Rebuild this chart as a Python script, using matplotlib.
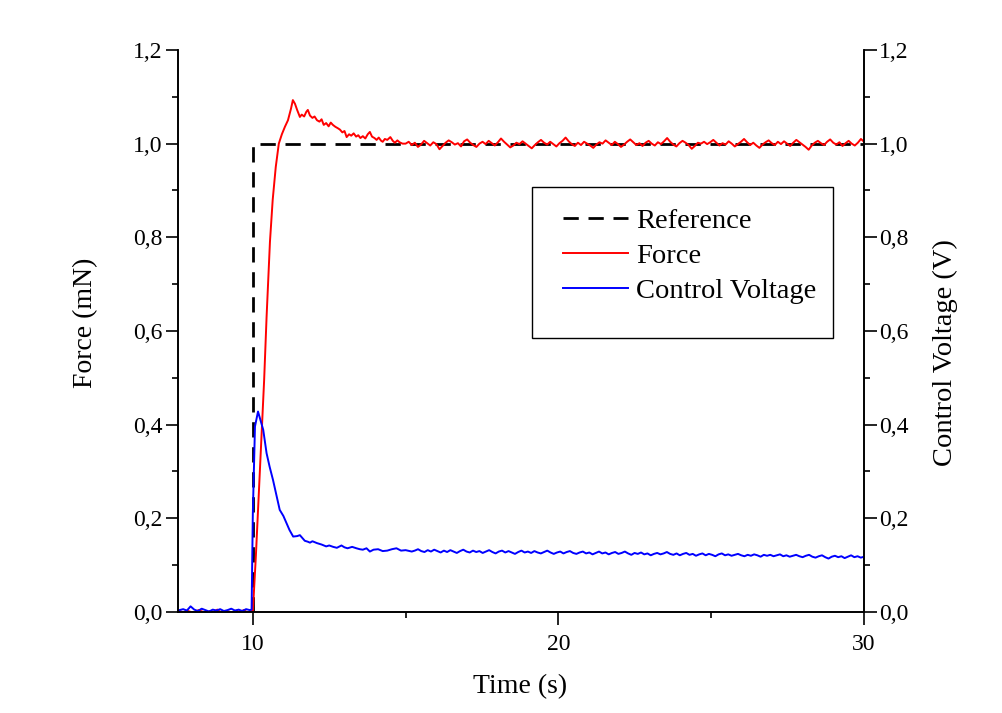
import numpy as np
import matplotlib
matplotlib.use("Agg")
import matplotlib.pyplot as plt
from matplotlib.patches import Rectangle
from matplotlib.ticker import MultipleLocator, FuncFormatter

plt.rcParams['font.family'] = ['Liberation Serif', 'DejaVu Serif']

# reference step
ref_t = [7.55, 10.0, 10.0, 30.0]
ref_v = [0.0, 0.0, 1.0, 1.0]

# values before the step (both traces)
pre_force = [0.002, -0.001, 0.003, 0.0, -0.002, 0.004, 0.001, -0.003, 0.002, 0.0,
             0.005, -0.001, 0.002, 0.001, -0.002, 0.003, 0.0, 0.004, -0.001, 0.002]
pre_volt = [0.004, 0.006, 0.003, 0.012, 0.005, 0.002, 0.007, 0.004, 0.001, 0.005,
            0.003, 0.006, 0.002, 0.004, 0.007, 0.003, 0.005, 0.002, 0.006, 0.004]

# force rise and overshoot
rise_t = [10.0, 10.1, 10.2, 10.3, 10.37, 10.45, 10.56, 10.65, 10.75, 10.85, 10.95,
          11.05, 11.15, 11.25, 11.31, 11.38, 11.45, 11.54, 11.6, 11.68, 11.75, 11.8,
          11.87, 11.95, 12.02, 12.1, 12.18, 12.25, 12.32, 12.4, 12.48, 12.55, 12.62,
          12.7, 12.78, 12.85, 12.93, 13.0, 13.07, 13.15, 13.22, 13.3, 13.38, 13.45,
          13.52, 13.6, 13.68, 13.76, 13.83, 13.9, 13.98, 14.05, 14.12, 14.2, 14.25,
          14.32, 14.4, 14.5, 14.58, 14.65, 14.73, 14.8, 14.9]
rise_force = [0.0, 0.12, 0.26, 0.40, 0.495, 0.63, 0.79, 0.88, 0.95, 1.0, 1.02,
              1.036, 1.05, 1.075, 1.093, 1.085, 1.072, 1.057, 1.062, 1.058, 1.068, 1.072,
              1.06, 1.055, 1.058, 1.05, 1.047, 1.052, 1.04, 1.044, 1.037, 1.045, 1.040,
              1.036, 1.033, 1.03, 1.024, 1.027, 1.014, 1.02, 1.017, 1.022, 1.015, 1.018,
              1.012, 1.016, 1.011, 1.02, 1.025, 1.015, 1.012, 1.008, 1.013, 1.006, 1.004,
              1.01, 1.008, 1.014, 1.006, 1.002, 1.007, 1.003, 1.0]

# force steady state, 15 s .. 30 s
tail_force = [1.000, 1.004, 0.997, 1.002, 0.993, 0.998, 1.006, 1.001, 0.996, 1.003,
              0.999, 0.988, 0.995, 1.002, 1.007, 1.003, 0.998, 1.001, 0.994, 1.005,
              1.009, 1.002, 0.997, 0.993, 1.000, 1.004, 0.999, 1.006, 1.001, 0.996,
              1.003, 1.011, 1.004, 0.998, 0.992, 0.996, 1.002, 0.999, 1.005, 1.000,
              0.995, 0.990, 0.997, 1.003, 1.008, 1.002, 0.998, 1.004, 0.999, 0.994,
              1.001, 1.006, 1.013, 1.005, 0.999, 0.995, 1.002, 0.997, 1.004, 1.000,
              0.996, 0.991, 0.998, 1.003, 1.000, 1.007, 1.002, 0.997, 1.004, 0.999,
              0.993, 0.998, 1.004, 1.009, 1.003, 0.997, 1.001, 0.995, 1.002, 1.006,
              1.000, 0.996, 1.003, 0.999, 1.005, 1.012, 1.004, 0.998, 0.994, 1.001,
              1.006, 1.002, 0.997, 0.989, 0.995, 1.002, 1.000, 1.004, 0.999, 1.003,
              1.008, 1.002, 0.996, 1.001, 0.998, 1.005, 1.000, 0.994, 0.999, 1.004,
              1.010, 1.003, 0.997, 1.002, 0.996, 0.991, 0.998, 1.003, 1.007, 1.001,
              0.997, 1.004, 0.999, 1.005, 1.000, 0.995, 1.002, 1.008, 1.003, 0.998,
              0.993, 0.987, 0.996, 1.002, 1.006, 1.001, 0.997, 1.004, 1.009, 1.002,
              0.998, 1.003, 0.995, 1.001, 1.006, 1.000, 0.996, 1.002, 1.010, 1.004]

# control voltage peak and decay
peak_t = [9.96, 10.0, 10.07, 10.17, 10.25, 10.34, 10.45, 10.55, 10.66, 10.77, 10.88,
          11.0, 11.1, 11.2, 11.32, 11.45, 11.54, 11.62, 11.7, 11.8, 11.87, 11.95,
          12.1, 12.25, 12.4, 12.5, 12.63, 12.75, 12.9, 13.0, 13.1, 13.25, 13.39,
          13.5, 13.6, 13.72, 13.83, 13.95, 14.1, 14.25, 14.4, 14.55, 14.7, 14.85, 15.0,
          15.2]
peak_volt = [0.005, 0.21, 0.396, 0.428, 0.41, 0.389, 0.339, 0.31, 0.282, 0.25, 0.218,
             0.205, 0.19, 0.175, 0.161, 0.162, 0.164, 0.158, 0.152, 0.150, 0.148, 0.151,
             0.147, 0.144, 0.140, 0.142, 0.139, 0.137, 0.142, 0.138, 0.136, 0.139, 0.136,
             0.134, 0.133, 0.136, 0.129, 0.133, 0.134, 0.130, 0.131, 0.134, 0.136, 0.131,
             0.132, 0.129]

# control voltage steady state, 15.3 s .. 30 s
tail_volt = [0.131, 0.134, 0.130, 0.128, 0.132, 0.129, 0.133, 0.130, 0.127, 0.131,
             0.128, 0.132, 0.129, 0.126, 0.130, 0.133, 0.129, 0.127, 0.131, 0.128,
             0.130, 0.126, 0.129, 0.132, 0.128, 0.125, 0.129, 0.131, 0.127, 0.130,
             0.127, 0.124, 0.128, 0.131, 0.127, 0.129, 0.126, 0.130, 0.127, 0.125,
             0.128, 0.131, 0.127, 0.124, 0.127, 0.129, 0.125, 0.128, 0.130, 0.126,
             0.124, 0.127, 0.129, 0.125, 0.127, 0.123, 0.126, 0.129, 0.125, 0.127,
             0.123, 0.126, 0.128, 0.124, 0.126, 0.129, 0.125, 0.122, 0.126, 0.124,
             0.127, 0.123, 0.125, 0.121, 0.124, 0.126, 0.123, 0.125, 0.128, 0.124,
             0.122, 0.125, 0.121, 0.124, 0.126, 0.122, 0.124, 0.120, 0.123, 0.125,
             0.121, 0.124, 0.122, 0.119, 0.123, 0.125, 0.121, 0.123, 0.120, 0.122,
             0.124, 0.121, 0.119, 0.122, 0.120, 0.123, 0.121, 0.118, 0.122, 0.120,
             0.122, 0.119, 0.121, 0.123, 0.119, 0.121, 0.118, 0.120, 0.122, 0.119,
             0.117, 0.120, 0.122, 0.118, 0.116, 0.119, 0.121, 0.117, 0.114, 0.118,
             0.120, 0.117, 0.119, 0.115, 0.118, 0.121, 0.117, 0.119, 0.116, 0.118]

pre_t = np.linspace(7.6, 9.95, len(pre_force))
force_t = np.concatenate([pre_t, rise_t, np.linspace(15, 30, len(tail_force))])
force = np.concatenate([pre_force, rise_force, tail_force])
volt_t = np.concatenate([np.linspace(7.6, 9.9, len(pre_volt)), peak_t,
                         np.linspace(15.3, 30, len(tail_volt))])
volt = np.concatenate([pre_volt, peak_volt, tail_volt])

fig = plt.figure(figsize=(10.02, 7.13), dpi=100)
ax = fig.add_axes([0.1776, 0.1417, 0.6847, 0.7882])
ax2 = ax.twinx()

l1, = ax.plot(ref_t, ref_v, color='black', lw=2.0, ls=(0, (5.5, 3.5)), label='Reference')
l2, = ax.plot(force_t, force, color='#ff0000', lw=1.4, label='Force')
l3, = ax2.plot(volt_t, volt, color='#0000ff', lw=1.4, label='Control Voltage')

comma = FuncFormatter(lambda v, p: f"{v:.1f}".replace('.', ','))
for a in (ax, ax2):
    a.set_xlim(7.55, 30)
    a.set_ylim(0, 1.2)
    a.yaxis.set_major_locator(MultipleLocator(0.2))
    a.yaxis.set_minor_locator(MultipleLocator(0.1))
    a.yaxis.set_major_formatter(comma)
    a.spines['top'].set_visible(False)
    for s in a.spines.values():
        s.set_linewidth(1.2)
    a.tick_params(which='major', direction='out', length=9, width=1.2, labelsize=17, pad=2)
    a.tick_params(which='minor', direction='out', length=4.5, width=1.2)

ax.xaxis.set_major_locator(MultipleLocator(10))
ax.xaxis.set_minor_locator(MultipleLocator(5))
ax.tick_params(axis='x', which='major', pad=7)

ax.set_xlabel('Time (s)', fontsize=20)
ax.set_ylabel('Force (mN)', fontsize=20)
ax2.set_ylabel('Control Voltage (V)', fontsize=20.5)
ax.xaxis.set_label_coords(0.4985, -0.11)
ax.yaxis.set_label_coords(-0.116, 0.514)
ax2.yaxis.set_label_coords(1.1, 0.462)

# legend box
ax2.add_patch(Rectangle((0.516, 0.4875), 0.439, 0.2685, transform=ax2.transAxes,
                        fill=True, facecolor='white', edgecolor='black', lw=1.0, zorder=5))
leg = ax2.legend(handles=[l1, l2, l3], loc='upper left', bbox_to_anchor=(0.561, 0.7185),
                 frameon=False, fontsize=20.5, handlelength=2.3, handletextpad=0.28,
                 labelspacing=0.32, borderpad=0, borderaxespad=0)
leg.set_zorder(6)

fig.savefig('out.png', dpi=100)
